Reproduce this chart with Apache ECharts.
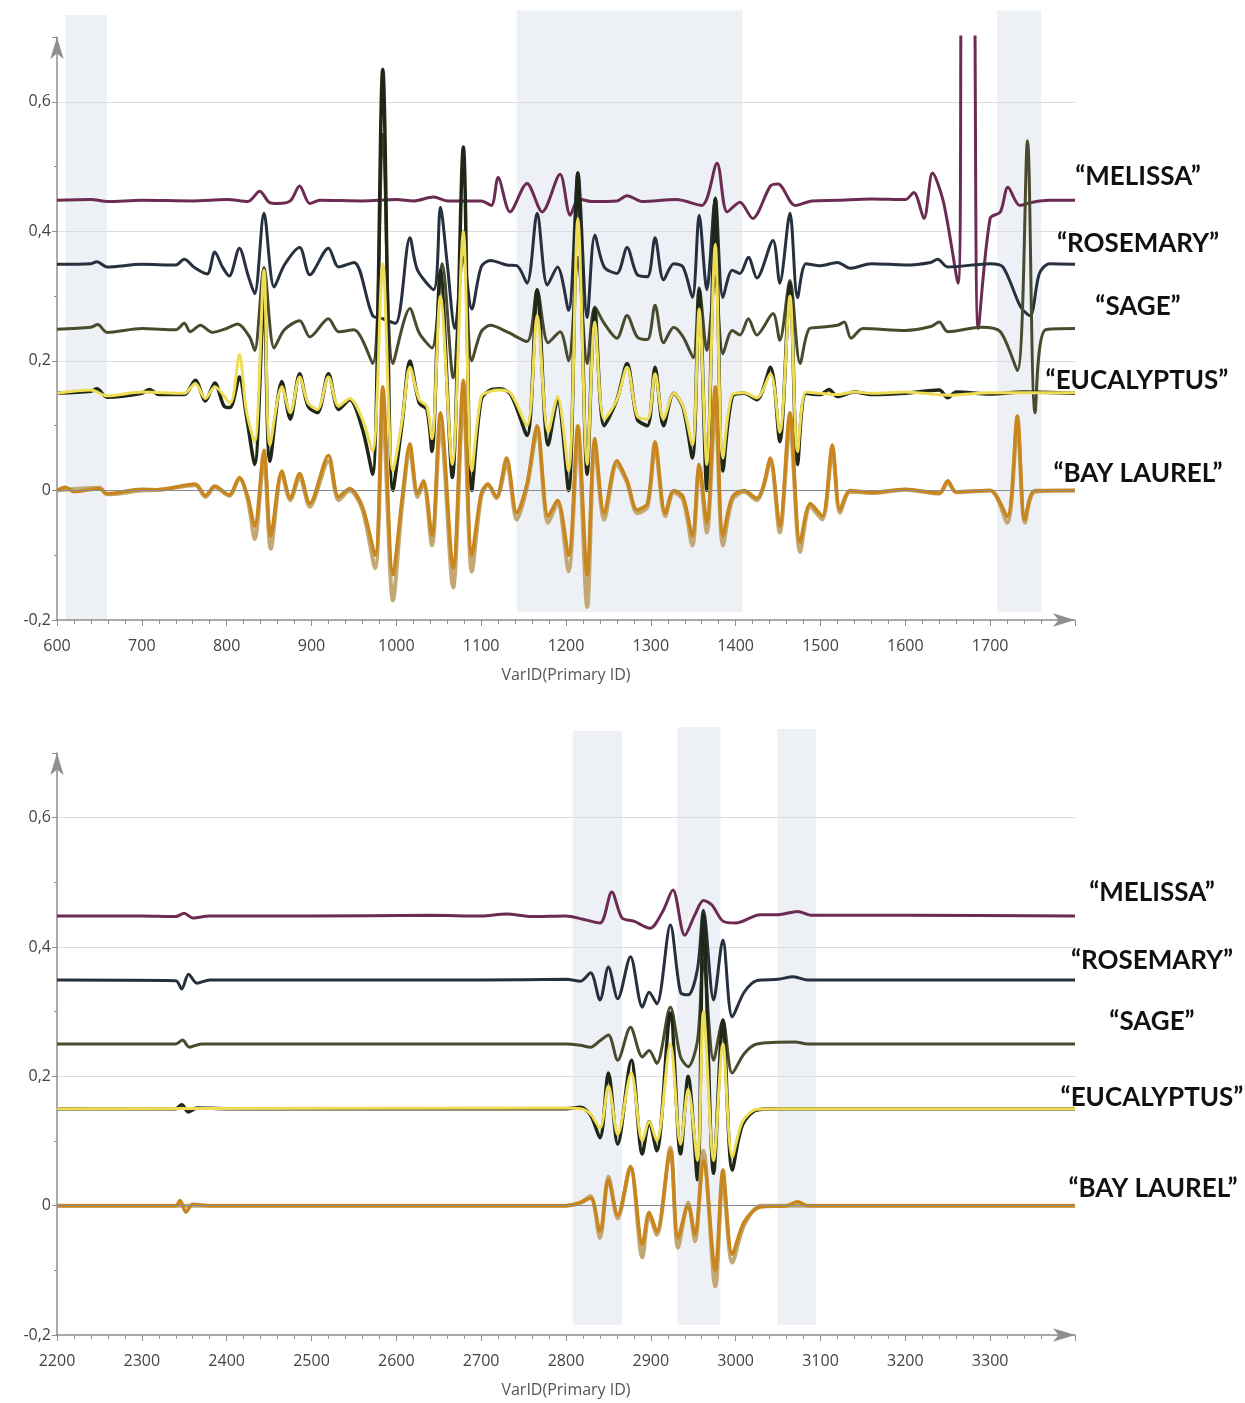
<!DOCTYPE html>
<html><head><meta charset="utf-8">
<script src="https://cdn.jsdelivr.net/npm/echarts@6.0.0/dist/echarts.min.js"></script>
<style>html,body{margin:0;padding:0;background:#fff}#c{width:1245px;height:1403px}</style>
</head><body><div id="c"></div><script>
// ---------- data ----------
const GROUP_LABELS = ['\u201CMELISSA\u201D','\u201CROSEMARY\u201D','\u201CSAGE\u201D','\u201CEUCALYPTUS\u201D','\u201CBAY LAUREL\u201D'];
const X_RANGE_TOP = [600, 1800];
const X_RANGE_BOT = [2200, 3400];
const Y_RANGE = [-0.2, 0.7];
const BANDS_TOP = [[610, 659, 0.734, -0.2], [1142, 1408, 0.741, -0.188], [1708, 1760, 0.741, -0.188]];
const BANDS_BOT = [[2808, 2866, 0.734, -0.184], [2931, 2982, 0.74, -0.184], [3049, 3095, 0.737, -0.184]];

const MELISSA_TOP = [[600,0.448],[640,0.449],[660,0.446],[700,0.448],[760,0.447],[800,0.449],[825,0.446],[839,0.462],[850,0.445],[860,0.443],[875,0.447],[886,0.47],[898,0.443],[910,0.448],[960,0.447],[1000,0.449],[1020,0.447],[1044,0.453],[1060,0.447],[1100,0.447],[1112,0.44],[1120,0.483],[1134,0.43],[1154,0.474],[1172,0.43],[1193,0.488],[1205,0.425],[1215,0.45],[1230,0.446],[1260,0.447],[1272,0.455],[1290,0.446],[1330,0.449],[1360,0.44],[1378,0.505],[1390,0.43],[1405,0.445],[1420,0.42],[1441,0.47],[1450,0.473],[1470,0.44],[1490,0.447],[1520,0.448],[1560,0.45],[1600,0.449],[1610,0.46],[1622,0.42],[1632,0.49],[1645,0.445],[1662,0.32],[1668,0.9],[1679,0.9],[1686,0.25],[1700,0.42],[1712,0.43],[1721,0.468],[1735,0.44],[1750,0.445],[1770,0.448],[1800,0.448]];
const ROSEMARY_TOP = [[600,0.349],[640,0.35],[647,0.353],[659,0.345],[700,0.349],[740,0.348],[750,0.357],[762,0.344],[777,0.334],[786,0.368],[795,0.345],[803,0.331],[815,0.374],[825,0.333],[833,0.304],[844,0.428],[856,0.314],[868,0.348],[886,0.375],[898,0.333],[920,0.374],[932,0.345],[950,0.352],[972,0.27],[984,0.265],[999,0.258],[1016,0.39],[1025,0.34],[1044,0.31],[1052,0.437],[1060,0.35],[1069,0.25],[1079,0.36],[1089,0.28],[1100,0.345],[1111,0.355],[1130,0.348],[1142,0.347],[1154,0.32],[1166,0.428],[1178,0.317],[1190,0.345],[1203,0.278],[1214,0.49],[1225,0.267],[1234,0.394],[1245,0.345],[1260,0.335],[1272,0.375],[1284,0.333],[1296,0.33],[1305,0.39],[1315,0.325],[1327,0.35],[1338,0.345],[1349,0.298],[1357,0.425],[1366,0.31],[1376,0.452],[1385,0.298],[1396,0.34],[1405,0.335],[1415,0.36],[1425,0.328],[1444,0.386],[1452,0.32],[1464,0.428],[1473,0.298],[1483,0.35],[1500,0.347],[1520,0.352],[1535,0.343],[1560,0.35],[1600,0.348],[1630,0.352],[1638,0.357],[1650,0.345],[1700,0.35],[1715,0.345],[1736,0.283],[1747,0.27],[1758,0.335],[1770,0.35],[1800,0.349]];
const SAGE_TOP = [[600,0.249],[640,0.252],[648,0.256],[659,0.244],[700,0.25],[740,0.248],[750,0.258],[757,0.245],[769,0.255],[783,0.244],[800,0.25],[813,0.257],[827,0.237],[833,0.216],[844,0.344],[856,0.22],[868,0.248],[886,0.262],[898,0.237],[920,0.265],[932,0.245],[950,0.248],[972,0.196],[984,0.55],[996,0.196],[1016,0.281],[1027,0.243],[1042,0.22],[1054,0.35],[1067,0.174],[1079,0.4],[1089,0.2],[1100,0.245],[1111,0.255],[1130,0.245],[1154,0.23],[1166,0.309],[1179,0.228],[1193,0.245],[1203,0.2],[1214,0.36],[1225,0.196],[1234,0.283],[1245,0.258],[1260,0.235],[1272,0.27],[1284,0.237],[1296,0.233],[1305,0.286],[1315,0.228],[1327,0.252],[1338,0.237],[1350,0.205],[1357,0.313],[1366,0.216],[1376,0.33],[1385,0.211],[1396,0.247],[1405,0.24],[1415,0.265],[1425,0.24],[1444,0.273],[1452,0.232],[1464,0.324],[1476,0.196],[1487,0.25],[1500,0.252],[1520,0.255],[1528,0.26],[1536,0.235],[1550,0.25],[1600,0.247],[1630,0.253],[1640,0.26],[1650,0.245],[1690,0.252],[1712,0.245],[1732,0.185],[1744,0.54],[1753,0.12],[1765,0.248],[1800,0.25]];
const EUC_DARK_TOP = [[600,0.15],[640,0.153],[647,0.157],[659,0.144],[700,0.15],[709,0.156],[720,0.148],[750,0.148],[763,0.17],[775,0.138],[786,0.166],[797,0.13],[804,0.128],[815,0.175],[823,0.117],[833,0.04],[844,0.3],[851,0.045],[865,0.168],[875,0.11],[886,0.18],[896,0.13],[907,0.12],[920,0.18],[932,0.125],[945,0.14],[960,0.095],[972,0.025],[984,0.65],[996,0.0],[1007,0.105],[1016,0.2],[1027,0.135],[1036,0.125],[1042,0.06],[1052,0.34],[1066,0.02],[1079,0.53],[1089,0.0],[1100,0.14],[1111,0.155],[1122,0.157],[1135,0.148],[1154,0.085],[1166,0.31],[1179,0.07],[1190,0.14],[1203,0.0],[1214,0.49],[1225,0.025],[1234,0.28],[1245,0.1],[1260,0.14],[1272,0.196],[1284,0.11],[1296,0.1],[1305,0.19],[1315,0.1],[1327,0.15],[1338,0.128],[1349,0.05],[1357,0.31],[1366,0.0],[1376,0.45],[1385,0.03],[1396,0.145],[1410,0.15],[1425,0.14],[1441,0.19],[1452,0.075],[1464,0.32],[1473,0.04],[1483,0.15],[1500,0.148],[1510,0.156],[1520,0.145],[1540,0.152],[1560,0.148],[1600,0.15],[1640,0.155],[1650,0.143],[1660,0.152],[1700,0.149],[1740,0.152],[1800,0.15]];
const EUC_YELLOW_TOP = [[600,0.15],[640,0.155],[659,0.146],[700,0.152],[750,0.15],[763,0.165],[775,0.142],[786,0.16],[804,0.135],[815,0.21],[823,0.125],[833,0.075],[844,0.34],[851,0.07],[865,0.16],[875,0.12],[886,0.175],[896,0.135],[907,0.125],[920,0.175],[932,0.13],[945,0.142],[960,0.11],[972,0.06],[984,0.35],[996,0.03],[1007,0.11],[1016,0.19],[1027,0.14],[1036,0.13],[1042,0.08],[1052,0.3],[1066,0.04],[1079,0.4],[1089,0.03],[1100,0.145],[1111,0.153],[1122,0.155],[1135,0.15],[1154,0.1],[1166,0.27],[1179,0.09],[1190,0.145],[1203,0.03],[1214,0.42],[1225,0.04],[1234,0.26],[1245,0.11],[1260,0.14],[1272,0.19],[1284,0.115],[1296,0.11],[1305,0.18],[1315,0.11],[1327,0.15],[1338,0.13],[1349,0.07],[1357,0.28],[1366,0.04],[1376,0.38],[1385,0.05],[1396,0.148],[1410,0.151],[1425,0.143],[1441,0.18],[1452,0.09],[1464,0.3],[1473,0.06],[1483,0.152],[1500,0.15],[1520,0.148],[1540,0.152],[1560,0.15],[1600,0.152],[1650,0.147],[1700,0.151],[1800,0.151]];
const BAY_ORANGE_TOP = [[600,0.0],[610,0.005],[620,-0.002],[650,0.003],[659,-0.005],[700,0.002],[720,0.001],[763,0.01],[775,-0.008],[786,0.007],[803,-0.007],[815,0.02],[825,-0.01],[833,-0.055],[844,0.062],[852,-0.07],[865,0.03],[875,-0.012],[886,0.026],[898,-0.02],[920,0.054],[932,-0.01],[945,0.003],[960,-0.025],[975,-0.1],[984,0.16],[996,-0.13],[1007,-0.01],[1016,0.072],[1025,-0.005],[1032,0.015],[1042,-0.07],[1052,0.12],[1067,-0.12],[1079,0.17],[1089,-0.1],[1100,-0.005],[1108,0.01],[1118,-0.01],[1130,0.05],[1142,-0.035],[1154,0.01],[1166,0.1],[1179,-0.04],[1190,-0.015],[1203,-0.1],[1214,0.1],[1225,-0.13],[1234,0.08],[1245,-0.035],[1260,0.046],[1272,0.015],[1284,-0.03],[1296,-0.02],[1305,0.075],[1317,-0.035],[1327,0.0],[1338,-0.01],[1349,-0.07],[1357,0.04],[1366,-0.05],[1376,0.16],[1385,-0.07],[1396,-0.01],[1410,0.0],[1425,-0.012],[1432,0.004],[1441,0.05],[1452,-0.055],[1464,0.12],[1476,-0.08],[1488,-0.02],[1502,-0.04],[1514,0.07],[1523,-0.03],[1535,0.0],[1560,-0.003],[1600,0.002],[1640,-0.004],[1650,0.015],[1660,-0.002],[1700,0.0],[1720,-0.04],[1732,0.115],[1741,-0.045],[1753,0.0],[1800,0.0]];
const BAY_TAN_TOP = [[600,0.0],[650,0.004],[659,-0.006],[700,0.0],[720,0.001],[763,0.008],[775,-0.01],[786,0.005],[803,-0.008],[815,0.018],[825,-0.015],[833,-0.075],[844,0.05],[852,-0.09],[865,0.025],[875,-0.015],[886,0.02],[898,-0.025],[920,0.045],[932,-0.015],[945,0.0],[960,-0.03],[975,-0.12],[984,0.12],[996,-0.17],[1007,-0.02],[1016,0.06],[1025,-0.01],[1032,0.01],[1042,-0.085],[1052,0.1],[1067,-0.15],[1079,0.14],[1089,-0.125],[1100,-0.01],[1108,0.008],[1118,-0.012],[1130,0.04],[1142,-0.045],[1154,0.005],[1166,0.09],[1179,-0.05],[1190,-0.02],[1203,-0.125],[1214,0.08],[1225,-0.18],[1234,0.07],[1245,-0.045],[1260,0.04],[1272,0.012],[1284,-0.035],[1296,-0.025],[1305,0.065],[1317,-0.04],[1327,-0.003],[1338,-0.015],[1349,-0.085],[1357,0.035],[1366,-0.065],[1376,0.13],[1385,-0.085],[1396,-0.015],[1410,-0.002],[1425,-0.015],[1432,0.002],[1441,0.045],[1452,-0.065],[1464,0.1],[1476,-0.095],[1488,-0.025],[1502,-0.045],[1514,0.06],[1523,-0.035],[1535,-0.002],[1560,-0.004],[1600,0.001],[1640,-0.005],[1650,0.012],[1660,-0.003],[1700,0.0],[1720,-0.05],[1732,0.1],[1741,-0.05],[1753,-0.002],[1800,0.0]];

const MELISSA_BOT = [[2200,0.448],[2300,0.448],[2340,0.447],[2350,0.452],[2360,0.445],[2380,0.448],[2500,0.448],[2640,0.449],[2700,0.448],[2730,0.451],[2760,0.447],[2800,0.448],[2820,0.443],[2840,0.437],[2854,0.485],[2866,0.445],[2880,0.44],[2899,0.429],[2914,0.455],[2926,0.488],[2940,0.418],[2952,0.45],[2962,0.472],[2972,0.465],[2985,0.44],[3000,0.437],[3029,0.45],[3050,0.45],[3073,0.455],[3090,0.449],[3200,0.449],[3400,0.448]];
const ROSEMARY_BOT = [[2200,0.349],[2340,0.348],[2347,0.335],[2355,0.358],[2365,0.344],[2380,0.349],[2700,0.349],[2800,0.35],[2817,0.347],[2829,0.36],[2840,0.318],[2850,0.369],[2861,0.32],[2876,0.385],[2890,0.307],[2898,0.33],[2907,0.312],[2923,0.434],[2935,0.33],[2944,0.326],[2955,0.366],[2962,0.457],[2974,0.318],[2985,0.411],[2996,0.292],[3010,0.33],[3025,0.348],[3050,0.35],[3068,0.354],[3085,0.349],[3400,0.349]];
const SAGE_BOT = [[2200,0.25],[2340,0.25],[2348,0.256],[2356,0.245],[2370,0.25],[2700,0.25],[2800,0.25],[2817,0.248],[2829,0.245],[2840,0.255],[2850,0.264],[2861,0.225],[2876,0.276],[2890,0.23],[2898,0.24],[2907,0.22],[2923,0.307],[2935,0.23],[2944,0.215],[2955,0.255],[2962,0.38],[2974,0.225],[2985,0.287],[2996,0.205],[3010,0.235],[3025,0.25],[3070,0.253],[3085,0.25],[3400,0.25]];
const EUC_DARK_BOT = [[2200,0.15],[2340,0.15],[2347,0.156],[2355,0.145],[2365,0.151],[2400,0.15],[2800,0.15],[2817,0.152],[2829,0.14],[2840,0.105],[2850,0.205],[2861,0.095],[2877,0.225],[2890,0.08],[2898,0.13],[2907,0.085],[2923,0.298],[2935,0.08],[2944,0.2],[2955,0.04],[2962,0.45],[2974,0.05],[2985,0.287],[2996,0.055],[3008,0.125],[3025,0.148],[3050,0.15],[3400,0.15]];
const EUC_YELLOW_BOT = [[2200,0.15],[2800,0.151],[2817,0.15],[2829,0.142],[2840,0.12],[2850,0.185],[2861,0.11],[2877,0.205],[2890,0.1],[2898,0.13],[2907,0.1],[2923,0.25],[2935,0.095],[2944,0.18],[2955,0.07],[2962,0.3],[2974,0.07],[2985,0.25],[2996,0.075],[3008,0.13],[3025,0.149],[3050,0.15],[3400,0.15]];
const BAY_ORANGE_BOT = [[2200,0.0],[2340,0.0],[2345,0.008],[2352,-0.01],[2360,0.002],[2380,0.0],[2800,0.0],[2817,0.005],[2829,0.012],[2840,-0.04],[2850,0.04],[2861,-0.015],[2876,0.06],[2890,-0.06],[2898,-0.01],[2907,-0.04],[2923,0.086],[2932,-0.05],[2944,0.0],[2952,-0.045],[2962,0.07],[2976,-0.1],[2985,0.055],[2996,-0.075],[3010,-0.025],[3029,-0.002],[3060,0.0],[3073,0.006],[3085,0.0],[3400,0.0]];
const BAY_TAN_BOT = [[2200,0.0],[2800,0.0],[2817,0.004],[2829,0.015],[2840,-0.05],[2850,0.045],[2861,-0.02],[2876,0.06],[2890,-0.08],[2898,-0.015],[2907,-0.045],[2923,0.09],[2932,-0.065],[2944,0.005],[2952,-0.055],[2962,0.085],[2976,-0.125],[2985,0.04],[2996,-0.088],[3010,-0.03],[3030,0.0],[3060,0.0],[3400,0.0]];

// ---------- styles ----------
const COLORS = {mel:'#6b2b52', ros:'#26303f', sage:'#4a4a2e', eucD:'#1f2817', eucY:'#eedc55', bayT:'#c2a873', bayO:'#c8861c'};
const AX = '#8f8f8f';
const FONT = 'Open Sans';
const fmtY = v => (Math.round(v * 10) / 10).toString().replace('.', ',');
const fmtX = v => String(Math.round(v));

function xAxis(idx, r) {
  return {type:'value', gridIndex:idx, min:r[0], max:r[1], interval:100,
    name:'VarID(Primary ID)', nameLocation:'middle', nameGap:47,
    nameTextStyle:{color:'#555', fontSize:16, fontFamily:FONT},
    axisLine:{onZero:false, lineStyle:{color:AX, width:1.5}, symbol:['none','arrow'], symbolSize:[10,22], symbolOffset:[0,0]},
    axisTick:{show:true, length:6, lineStyle:{color:AX}},
    minorTick:{show:true, splitNumber:5, length:4, lineStyle:{color:AX}},
    axisLabel:{color:'#444', fontSize:16, margin:18, showMaxLabel:false, fontFamily:FONT, formatter:fmtX},
    splitLine:{show:false}};
}
function yAxis(idx) {
  return {type:'value', gridIndex:idx, min:Y_RANGE[0], max:Y_RANGE[1], interval:0.2,
    axisLine:{show:true, onZero:false, lineStyle:{color:AX, width:1.5}, symbol:['none','arrow'], symbolSize:[10,22], symbolOffset:[0,0]},
    axisTick:{show:true, length:5, lineStyle:{color:AX}},
    minorTick:{show:true, splitNumber:2, length:3, lineStyle:{color:AX}},
    axisLabel:{color:'#444', fontSize:16, margin:6, showMaxLabel:false, fontFamily:FONT, formatter:fmtY},
    splitLine:{show:true, showMaxLine:false, showMinLine:false, lineStyle:{color:'#dcdcdc', width:1}}};
}
function line(idx, data, color, w) {
  return {type:'line', xAxisIndex:idx, yAxisIndex:idx, data, showSymbol:false, symbol:'none', smooth:0.3,
    lineStyle:{color, width:w || 3}, itemStyle:{color}, clip:true, animation:false, silent:true};
}
function zeroLine(idx) {
  return {type:'line', xAxisIndex:idx, yAxisIndex:idx, data:[], silent:true, z:5,
    markLine:{silent:true, symbol:'none', label:{show:false}, lineStyle:{color:'#8a8a8a', width:1, type:'solid'}, data:[{yAxis:0}], animation:false}};
}

const series = [];
[0,1].forEach(i => {
  const T = i === 0;
  series.push(line(i, T ? MELISSA_TOP : MELISSA_BOT, COLORS.mel));
  series.push(line(i, T ? ROSEMARY_TOP : ROSEMARY_BOT, COLORS.ros));
  series.push(line(i, T ? SAGE_TOP : SAGE_BOT, COLORS.sage));
  series.push(line(i, T ? EUC_DARK_TOP : EUC_DARK_BOT, COLORS.eucD, 3.5));
  series.push(line(i, T ? EUC_YELLOW_TOP : EUC_YELLOW_BOT, COLORS.eucY, 3));
  series.push(line(i, T ? BAY_TAN_TOP : BAY_TAN_BOT, COLORS.bayT, 4));
  series.push(line(i, T ? BAY_ORANGE_TOP : BAY_ORANGE_BOT, COLORS.bayO, 3.5));
  series.push(zeroLine(i));
});

const chart = echarts.init(document.getElementById('c'), null, {renderer:'canvas'});
chart.setOption({
  backgroundColor:'#fff', animation:false,
  grid:[{left:57, width:1018, top:37, height:583}, {left:57, width:1018, top:753, height:582}],
  xAxis:[xAxis(0, X_RANGE_TOP), xAxis(1, X_RANGE_BOT)],
  yAxis:[yAxis(0), yAxis(1)],
  series
});

// bands and group labels
const gfx = [];
[[BANDS_TOP,0],[BANDS_BOT,1]].forEach(([bands, gi]) => {
  bands.forEach(b => {
    const p1 = chart.convertToPixel({gridIndex:gi}, [b[0], b[2]]);
    const p2 = chart.convertToPixel({gridIndex:gi}, [b[1], b[3]]);
    gfx.push({type:'rect', z:-10, silent:true, shape:{x:p1[0], y:p1[1], width:p2[0]-p1[0], height:p2[1]-p1[1]}, style:{fill:'#edf0f4'}});
  });
});
const LABEL_POS_TOP = [[1138,177],[1138,244],[1138,307],[1137,381],[1138,474]];
const LABEL_POS_BOT = [[1152,893],[1152,961],[1152,1022],[1152,1098],[1153,1189]];
[LABEL_POS_TOP, LABEL_POS_BOT].forEach(pos => {
  GROUP_LABELS.forEach((t, k) => {
    gfx.push({type:'text', z:50, x:pos[k][0], y:pos[k][1], style:{text:t, fill:'#111', font:'bold 26px Lato', align:'center', verticalAlign:'middle'}});
  });
});
chart.setOption({graphic:gfx});
</script></body></html>
